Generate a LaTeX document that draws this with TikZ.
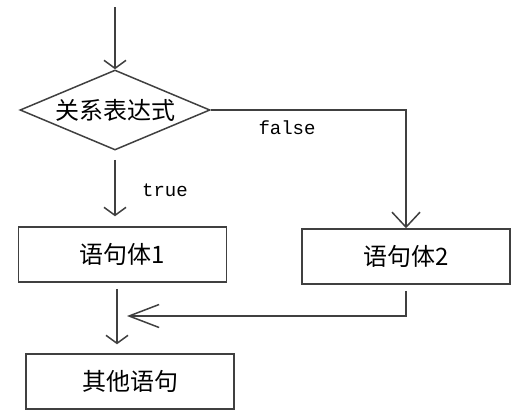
\documentclass[tikz,border=0pt]{standalone}
\usepackage{fontspec}
\newfontfamily\cjk{Noto Sans CJK SC}
\setmonofont{Liberation Mono}
\usetikzlibrary{positioning}
\usetikzlibrary{arrows.meta}
\usetikzlibrary{shapes}
\tikzset{stmt node/.style={rectangle,draw,minimum width=104pt,minimum height=27.5pt,inner sep=0pt,text=black,font=\cjk\fontsize{12}{14}\selectfont},
	cond node/.style={diamond,draw,aspect=2.4,minimum width=95pt,minimum height=40pt,inner sep=0pt,text=black,font=\cjk\fontsize{12}{14}\selectfont},
	flag node/.style={inner sep=0pt,text=black,font=\ttfamily\fontsize{9.5}{11}\selectfont},}

\begin{document}
\begin{tikzpicture}[x=0.5pt, y=-0.5pt, >={Straight Barb[length=4pt,width=11pt]}, line width=0.75pt, draw=black!75]
	\useasboundingbox (0,0) rectangle (523,413);
	    \coordinate (in) at (115,7);
		\node[cond node] (cond) at (115,110) {关系表达式};
	    \node[stmt node] (s1) at (122.5,254.5) {语句体1};
	    \node[stmt node] (s2) at (406,256.5) {语句体2};
	    \node[stmt node] (rest) at (130,381.5) {其他语句};
	    \node[flag node] (f) at (287,128) {false};
	    \node[flag node] (t) at (165,190) {true};
	    \coordinate (merge) at (127,316);
	
	    \draw[->] (in) -- (cond);
	    \draw[->, shorten <=4.5pt, shorten >=5pt] (cond.south) -- (cond.south |- s1.north);
	    \draw[->, >={Straight Barb[length=7.5pt,width=14pt]}] (cond.east) -| (s2.north);
	    \draw[->, shorten <=3pt, shorten >=4.5pt] ([xshift=-2.75pt]s1.south) -- ([xshift=-2.75pt]s1.south |- rest.north);
	    \draw[->, shorten <=3pt, >={Straight Barb[length=15pt,width=11.5pt]}] (s2.south) |- (merge);
\end{tikzpicture}
\end{document}
